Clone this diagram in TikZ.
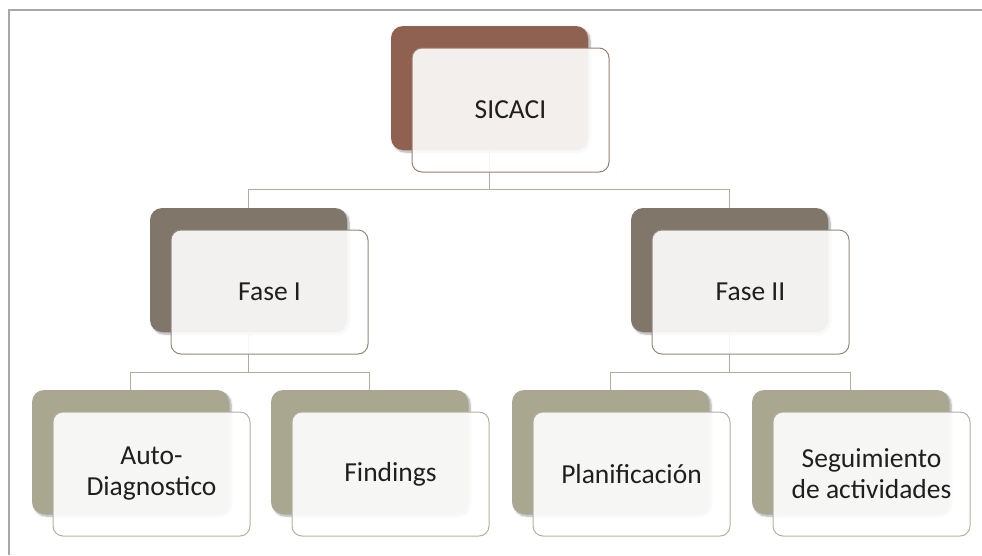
\documentclass[tikz,border=0pt]{standalone}
\usepackage{fontspec}
\setmainfont{Carlito}
\usetikzlibrary{shadows.blur}

\definecolor{topback}{HTML}{8E6151}
\definecolor{topline}{HTML}{9E7D70}
\definecolor{midback}{HTML}{80776A}
\definecolor{midline}{HTML}{918A7D}
\definecolor{lowback}{HTML}{A9A790}
\definecolor{lowline}{HTML}{B3B19E}
\definecolor{linkcol}{HTML}{B0AC9C}
\definecolor{framecol}{HTML}{A8A8A8}
\definecolor{textcol}{HTML}{1F1F1F}

\tikzset{
  backbox/.style={rounded corners=12pt, minimum width=197pt, minimum height=124pt,
    inner sep=0pt, draw=none,
    blur shadow={shadow xshift=2pt, shadow yshift=-2pt, shadow blur steps=6, shadow opacity=35}},
  frontbox/.style={rounded corners=10pt, minimum width=197pt, minimum height=124pt,
    inner sep=0pt, fill=white, fill opacity=0.9, text opacity=1, line width=1pt,
    text=textcol, align=center, font=\fontsize{27.5}{31}\selectfont},
  link/.style={draw=linkcol, line width=1pt},
}

\begin{document}
\begin{tikzpicture}[x=1pt,y=-1pt]
  \useasboundingbox (0,0) rectangle (982,555);
  % outer frame
  \draw[framecol, line width=2pt] (8.5,555) -- (8.5,9.5) -- (982,9.5);

  % back panels (coloured)
  \node[backbox, fill=topback] (sicB) at (489.5,88) {};
  \node[backbox, fill=midback] (f1B) at (248.5,270) {};
  \node[backbox, fill=midback] (f2B) at (729.5,270) {};
  \node[backbox, fill=lowback] (auB) at (130.5,452) {};
  \node[backbox, fill=lowback] (fiB) at (369.5,452) {};
  \node[backbox, fill=lowback] (plB) at (610.5,452) {};
  \node[backbox, fill=lowback] (seB) at (850.5,452) {};

  % connectors
  \draw[link] (sicB.south) -- ++(0,39) -| (f1B.north);
  \draw[link] (sicB.south) -- ++(0,39) -| (f2B.north);
  \draw[link] (f1B.south) -- ++(0,40) -| (auB.north);
  \draw[link] (f1B.south) -- ++(0,40) -| (fiB.north);
  \draw[link] (f2B.south) -- ++(0,40) -| (plB.north);
  \draw[link] (f2B.south) -- ++(0,40) -| (seB.north);

  % front panels with labels
  \node[frontbox, draw=topline] (sicF) at (510.5,110) {SICACI};
  \node[frontbox, draw=midline] (f1F) at (269.5,292) {Fase I};
  \node[frontbox, draw=midline] (f2F) at (750.5,292) {Fase II};
  \node[frontbox, draw=lowline] (auF) at (151.5,474) {Auto-\\Diagnostico};
  \node[frontbox, draw=lowline] (fiF) at (390.5,474) {Findings};
  \node[frontbox, draw=lowline] (plF) at (631.5,474) {Planificación};
  \node[frontbox, draw=lowline] (seF) at (871.5,474) {Seguimiento\\de actividades};
\end{tikzpicture}
\end{document}
